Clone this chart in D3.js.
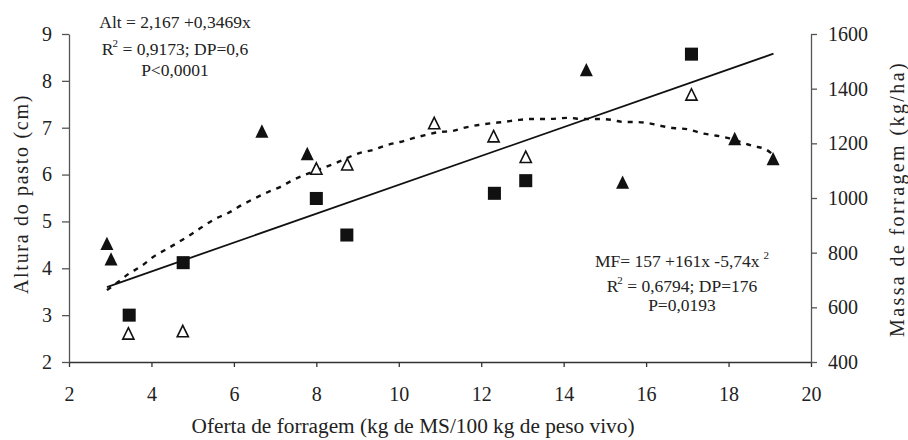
<!DOCTYPE html>
<html>
<head>
<meta charset="utf-8">
<script src="https://cdn.jsdelivr.net/npm/d3@7"></script>
<style>
  html, body { margin: 0; padding: 0; background: #fff; }
  svg { display: block; font-family: "Liberation Serif", "Times New Roman", serif; }
  .note { font-size: 17.5px; fill: #222; }
  .title { font-size: 20px; fill: #222; }
</style>
</head>
<body>
<div id="chart"></div>
<script>
// Values: [oferta de forragem, altura].
const solidTriangles = [[2.92, 4.53], [3.02, 4.2], [6.68, 6.93], [7.78, 6.45],
  [14.55, 8.24], [15.43, 5.84], [18.15, 6.77], [19.08, 6.34]];
const openTriangles = [[3.44, 2.61], [4.76, 2.66], [8.0, 6.13], [8.75, 6.22],
  [10.86, 7.1], [12.3, 6.82], [13.08, 6.38], [17.1, 7.71]];
const squares = [[3.46, 3.0], [4.77, 4.12], [8.0, 5.49], [8.74, 4.71],
  [12.32, 5.6], [13.08, 5.87], [17.1, 8.57]];

// Altura fit (solid line, left axis), ends as drawn.
const altFitX = [2.92, 19.09];
const altFitY = [3.6, 8.58];

// Massa de forragem curve (dashed, right axis).
const mfX = [2.92, 3.19, 3.48, 3.76, 4.04, 4.33, 4.62, 4.94, 5.23, 5.54, 5.86, 6.2,
  6.47, 6.83, 7.12, 7.44, 7.78, 8.09, 8.41, 9.06, 9.38, 9.72, 10.03, 10.35, 10.64,
  10.96, 11.3, 11.56, 11.93, 12.27, 12.53, 12.87, 13.19, 13.6, 14.11, 14.48, 14.89,
  15.2, 15.45, 15.74, 16.05, 16.39, 16.66, 17.0, 17.32, 17.63, 17.97, 18.29, 18.6,
  18.89, 19.06];
const mfY = [663, 693, 726, 751, 784, 810, 835, 865, 894, 923, 945, 975,
  996, 1022, 1040, 1066, 1088, 1106, 1124, 1165, 1176, 1194, 1205, 1219, 1230,
  1241, 1245, 1256, 1267, 1274, 1278, 1285, 1289, 1289, 1293, 1289, 1289,
  1285, 1278, 1278, 1274, 1263, 1256, 1252, 1238, 1230, 1220, 1205, 1190,
  1179, 1161];

const xTicks = [2, 4, 6, 8, 10, 12, 14, 16, 18, 20];
const yLeftTicks = [2, 3, 4, 5, 6, 7, 8, 9];
const yRightTicks = [400, 600, 800, 1000, 1200, 1400, 1600];

const W = 908, H = 440;
const margin = { top: 34, right: 97, bottom: 78, left: 69 };
const SERIF = '"Liberation Serif", "Times New Roman", serif';

const svg = d3.select('#chart').append('svg')
  .attr('width', W).attr('height', H)
  .attr('viewBox', `0 0 ${W} ${H}`);

const x = d3.scaleLinear().domain([2, 20]).range([margin.left, W - margin.right]);
const yL = d3.scaleLinear().domain([2, 9]).range([H - margin.bottom, margin.top]);
const yR = d3.scaleLinear().domain([400, 1600]).range([H - margin.bottom, margin.top]);
const fmt = d3.format('d');

// Axes
const gx = svg.append('g')
  .attr('transform', `translate(0,${yL(2)})`)
  .call(d3.axisBottom(x).tickValues(xTicks).tickFormat(fmt)
    .tickSize(5).tickSizeOuter(0).tickPadding(20));
const gl = svg.append('g')
  .attr('transform', `translate(${x(2)},0)`)
  .call(d3.axisLeft(yL).tickValues(yLeftTicks).tickFormat(fmt)
    .tickSize(7).tickSizeOuter(0).tickPadding(10));
const gr = svg.append('g')
  .attr('transform', `translate(${x(20)},0)`)
  .call(d3.axisRight(yR).tickValues(yRightTicks).tickFormat(fmt)
    .tickSize(6).tickSizeOuter(0).tickPadding(11));

gx.selectAll('path, line').attr('stroke', '#333').attr('stroke-width', 1.3);
gl.selectAll('path, line').attr('stroke', '#555').attr('stroke-width', 1.3);
gr.selectAll('path, line').attr('stroke', '#555').attr('stroke-width', 1.3);
[gx, gl, gr].forEach((g) => {
  g.attr('font-family', SERIF).attr('font-size', 20);
  g.selectAll('text').style('font-family', SERIF).style('font-size', '20px').attr('fill', '#222');
});

// Fit line and curve
svg.append('path')
  .datum(altFitX.map((v, i) => [v, altFitY[i]]))
  .attr('fill', 'none').attr('stroke', '#111').attr('stroke-width', 1.8)
  .attr('d', d3.line().x((d) => x(d[0])).y((d) => yL(d[1])));

svg.append('path')
  .datum(mfX.map((v, i) => [v, mfY[i]]))
  .attr('fill', 'none').attr('stroke', '#111').attr('stroke-width', 2.4)
  .attr('stroke-dasharray', '5,6')
  .attr('d', d3.line().x((d) => x(d[0])).y((d) => yR(d[1])).curve(d3.curveMonotoneX));

// Triangle with apex up, about as wide as tall
const tri = {
  draw(ctx, size) {
    const w = Math.sqrt(size);
    const h = w * 1.02;
    ctx.moveTo(0, -h / 2);
    ctx.lineTo(w / 2, h / 2);
    ctx.lineTo(-w / 2, h / 2);
    ctx.closePath();
  },
};

svg.append('g').selectAll('path').data(squares).join('path')
  .attr('transform', (d) => `translate(${x(d[0])},${yL(d[1])})`)
  .attr('d', d3.symbol(d3.symbolSquare, 170))
  .attr('fill', '#111');

svg.append('g').selectAll('path').data(solidTriangles).join('path')
  .attr('transform', (d) => `translate(${x(d[0])},${yL(d[1])})`)
  .attr('d', d3.symbol(tri, 170))
  .attr('fill', '#111');

svg.append('g').selectAll('path').data(openTriangles).join('path')
  .attr('transform', (d) => `translate(${x(d[0])},${yL(d[1])})`)
  .attr('d', d3.symbol(tri, 125))
  .attr('fill', '#fff').attr('stroke', '#111').attr('stroke-width', 1.6);

// Axis titles
svg.append('text').attr('class', 'title')
  .attr('x', 413).attr('y', 433).attr('text-anchor', 'middle')
  .style('font-size', '21.3px')
  .text('Oferta de forragem (kg de MS/100 kg de peso vivo)');

svg.append('text').attr('class', 'title')
  .attr('transform', 'translate(28,194) rotate(-90)')
  .attr('text-anchor', 'middle').attr('letter-spacing', 1.7)
  .text('Altura do pasto (cm)');

svg.append('text').attr('class', 'title')
  .attr('transform', 'translate(904,199) rotate(-90)')
  .attr('text-anchor', 'middle').attr('letter-spacing', 2.4)
  .text('Massa de forragem (kg/ha)');

// Regression notes
function note(cx, y, parts) {
  const t = svg.append('text').attr('class', 'note')
    .attr('x', cx).attr('y', y).attr('text-anchor', 'middle');
  parts.forEach((p) => {
    const s = t.append('tspan').text(p.text);
    if (p.sup) s.attr('dy', -8).style('font-size', '11px').attr('dx', p.dx || 0);
    if (p.down) s.attr('dy', 8);
  });
}

note(175, 28, [{ text: 'Alt = 2,167 +0,3469x' }]);
note(175, 55, [{ text: 'R' }, { text: '2', sup: true, dx: -1 }, { text: ' = 0,9173; DP=0,6', down: true }]);
note(175, 76, [{ text: 'P<0,0001' }]);

note(682, 267, [{ text: 'MF= 157 +161x -5,74x' }, { text: '2', sup: true, dx: 4 }]);
note(682, 292, [{ text: 'R' }, { text: '2', sup: true, dx: -1 }, { text: ' = 0,6794; DP=176', down: true }]);
note(682, 311, [{ text: 'P=0,0193' }]);
</script>
</body>
</html>
